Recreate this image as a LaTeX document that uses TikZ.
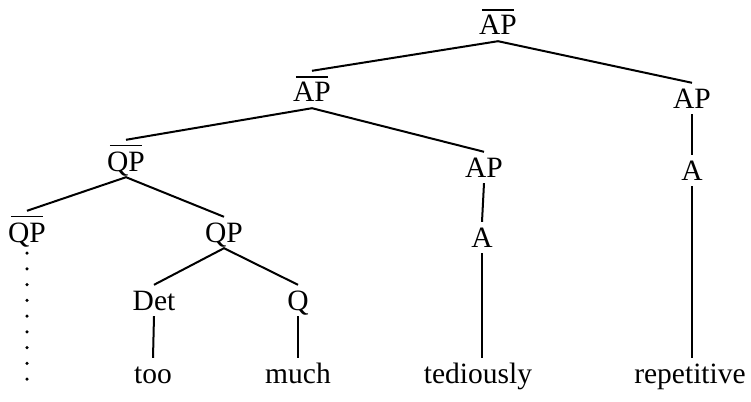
\documentclass[tikz,border=0pt]{standalone}
\usepackage{fontspec}
\setmainfont{Liberation Serif}
\newsavebox\ovlbox
\newcommand\ovl[1]{\sbox\ovlbox{#1}\vbox{\offinterlineskip\hbox to \wd\ovlbox{\hss\vrule width 0.85\wd\ovlbox height 1.4pt depth 0pt\hss}\kern 5pt\copy\ovlbox}}
\begin{document}
\begin{tikzpicture}[x=1pt,y=-1pt,
  lab/.style={inner xsep=0pt, inner ysep=1pt, text height=24pt, text depth=5pt,
              anchor=base, font=\fontsize{29.5}{32}\selectfont},
  olab/.style={lab, text height=30pt},
  edge/.style={line width=2pt},
  dots/.style={line width=3.5pt, line cap=round, dash pattern=on 0pt off 15.75pt}]
\useasboundingbox (0,0) rectangle (751,401);
% nodes
\node[olab] (t0)  at (498,35)  {\ovl{AP}};
\node[olab] (a1)  at (312,102) {\ovl{AP}};
\node[lab]  (a2)  at (692,108) {AP};
\node[olab] (q1)  at (126,171) {\ovl{QP}};
\node[lab]  (a3)  at (484,177) {AP};
\node[lab]  (ar)  at (692,180) {A};
\node[olab] (q2)  at (27,242)  {\ovl{QP}};
\node[lab]  (q3)  at (224,242) {QP};
\node[lab]  (a4)  at (482,247) {A};
\node[lab]  (det) at (154,310) {Det};
\node[lab]  (qq)  at (298,310) {Q};
\node[lab]  (too) at (153,383) {too};
\node[lab]  (much) at (298,383) {much};
\node[lab]  (ted) at (478,383) {tediously};
\node[lab]  (rep) at (690,383) {repetitive};
\coordinate (dotend) at (27,380);
% edges
\draw[edge] (a1.north) -- (t0.south) -- (a2.north);
\draw[edge] (q1.north) -- (a1.south) -- (a3.north);
\draw[edge] (q2.north) -- (q1.south) -- (q3.north);
\draw[edge] (det.north) -- (q3.south) -- (qq.north);
\draw[edge] (a2.south) -- (ar.north);
\draw[edge] (ar.south) -- (ar.south |- rep.north);
\draw[edge] (a3.south) -- (a4.north);
\draw[edge] (a4.south) -- (a4.south |- ted.north);
\draw[edge] (det.south) -- (too.north);
\draw[edge] (qq.south) -- (much.north);
\draw[dots] ([yshift=-5pt]q2.south) -- (dotend);
\end{tikzpicture}
\end{document}
